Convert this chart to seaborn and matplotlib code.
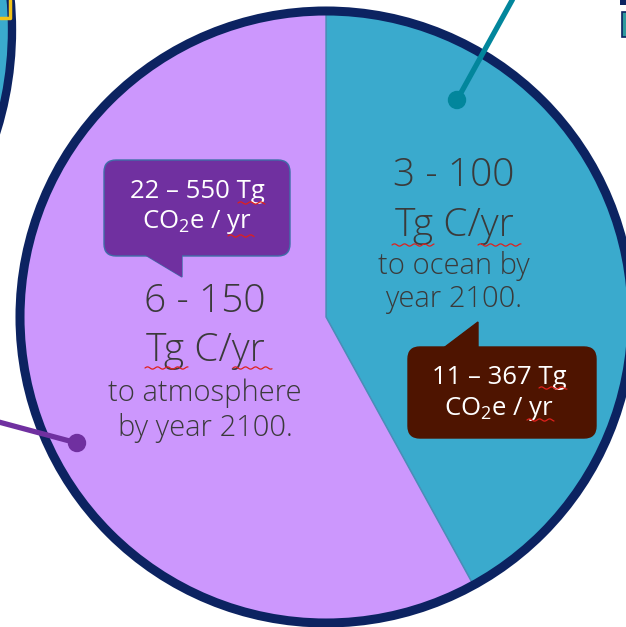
import numpy as np
import matplotlib
matplotlib.use("Agg")
import matplotlib.pyplot as plt
from matplotlib.patches import Circle, FancyBboxPatch, Polygon, Rectangle
import seaborn as sns

# Shares of the carbon release (ocean vs atmosphere), percent of the circle
sinks = ["Ocean", "Atmosphere"]
shares = [42.0, 58.0]
slice_colors = ["#3AAACD", "#CC97FD"]

main_labels = {
    "Ocean": ["3 - 100", "Tg C/yr", "to ocean by", "year 2100."],
    "Atmosphere": ["6 - 150", "Tg C/yr", "to atmosphere", "by year 2100."],
}
co2e_labels = {
    "Atmosphere": ["22 \u2013 550 Tg", "CO$_\\mathregular{2}$e / yr"],
    "Ocean": ["11 \u2013 367 Tg", "CO$_\\mathregular{2}$e / yr"],
}

sns.set_theme(style="white")
plt.rcParams["font.family"] = ["Open Sans", "DejaVu Sans"]
plt.rcParams["mathtext.fontset"] = "custom"
plt.rcParams["mathtext.rm"] = "Open Sans"

W, H = 626, 627
fig = plt.figure(figsize=(W / 100, H / 100), dpi=100)
ax = fig.add_axes([0, 0, 1, 1])


def Y(y):
    """Convert a top-down pixel row to the axes' bottom-up coordinate."""
    return H - y


NAVY = "#0C2361"
TEXT = "#3A3A3A"

# Neighbouring graphics peeking in at the corners
ax.add_patch(Circle((-331, Y(30)), 343, facecolor="#3AAACD", edgecolor=NAVY, lw=6, zorder=1))
ax.plot([0, 10, 10], [Y(18), Y(18), Y(0)], color="#F2C318", lw=2.5, zorder=2)
ax.add_patch(Rectangle((622, Y(37)), 8, 25, facecolor="#2E9A9E", edgecolor=NAVY, lw=1.2, zorder=1))
ax.add_patch(Rectangle((620, Y(5)), 10, 6, facecolor=NAVY, edgecolor="none", zorder=1))

# The pie
cx, cy, r = 326, Y(317), 306
ax.pie(shares, colors=slice_colors, startangle=90, counterclock=False,
       center=(cx, cy), radius=r,
       wedgeprops=dict(edgecolor="#4A8DB8", linewidth=1.0), frame=True)
ax.add_patch(Circle((cx, cy), r, fill=False, edgecolor=NAVY, lw=6.5, zorder=5))

# Leader lines ending in dots
ax.plot([457, 515], [Y(100), Y(-5)], color="#02869C", lw=3.8, solid_capstyle="butt", zorder=6)
ax.add_patch(Circle((457, Y(100)), 8.5, color="#02869C", zorder=6))
ax.plot([77, -5], [Y(443), Y(421)], color="#7030A0", lw=3.8, solid_capstyle="butt", zorder=6)
ax.add_patch(Circle((77, Y(443)), 8.5, color="#7030A0", zorder=6))

# Main slice labels
for (x, ys, sizes), key in [((454, (176, 226, 266, 299), (28, 28, 21, 21)), "Ocean"),
                             ((205, (302, 351, 393, 428), (28, 28, 21, 21)), "Atmosphere")]:
    for line, yy, fs in zip(main_labels[key], ys, sizes):
        ax.text(x, Y(yy), line, ha="center", va="center", fontsize=fs,
                fontweight="light", color=TEXT, zorder=7)

# Speech-bubble callouts
def bubble(x0, y0, x1, y1, tail, face, edge):
    ax.add_patch(Polygon([(tx, Y(ty)) for tx, ty in tail], closed=True,
                         facecolor=face, edgecolor=edge, lw=1, zorder=7))
    ax.add_patch(FancyBboxPatch((x0, Y(y1)), x1 - x0, y1 - y0,
                                boxstyle="round,pad=0,rounding_size=12",
                                facecolor=face, edgecolor=edge, lw=1, zorder=8))
    # hide the tail's edge where it joins the box
    ax.add_patch(Polygon([(tx, Y(ty)) for tx, ty in tail], closed=True,
                         facecolor=face, edgecolor="none", zorder=8.5))


bubble(104, 160, 290, 256, [(137, 250), (182, 277), (182, 250)], "#7030A0", "#3F6EA8")
bubble(408, 347, 596, 438, [(437, 353), (478, 322), (478, 353)], "#4E1400", "#4E1400")

for line, yy in zip(co2e_labels["Atmosphere"], (191, 222)):
    ax.text(197, Y(yy), line, ha="center", va="center", fontsize=18.5, color="white", zorder=9)
for line, yy in zip(co2e_labels["Ocean"], (378, 409)):
    ax.text(499, Y(yy), line, ha="center", va="center", fontsize=18.5, color="white", zorder=9)


# Spell-check style wavy underlines
def squiggle(x0, x1, y):
    xs = np.linspace(x0, x1, int((x1 - x0) * 2))
    ys = Y(y) + 1.1 * np.sin((xs - x0) / 1.6)
    ax.plot(xs, ys, color="#E0201B", lw=0.9, zorder=10)


for x0, x1, y in [(145, 188, 368), (233, 272, 368),
                  (392, 434, 245), (478, 521, 245),
                  (238, 265, 203), (228, 254, 236),
                  (539, 567, 388), (527, 554, 420)]:
    squiggle(x0, x1, y)

ax.set_xlim(0, W)
ax.set_ylim(0, H)
ax.set_aspect("equal")
ax.set_axis_off()
fig.savefig("out.png", dpi=100, facecolor="white")
